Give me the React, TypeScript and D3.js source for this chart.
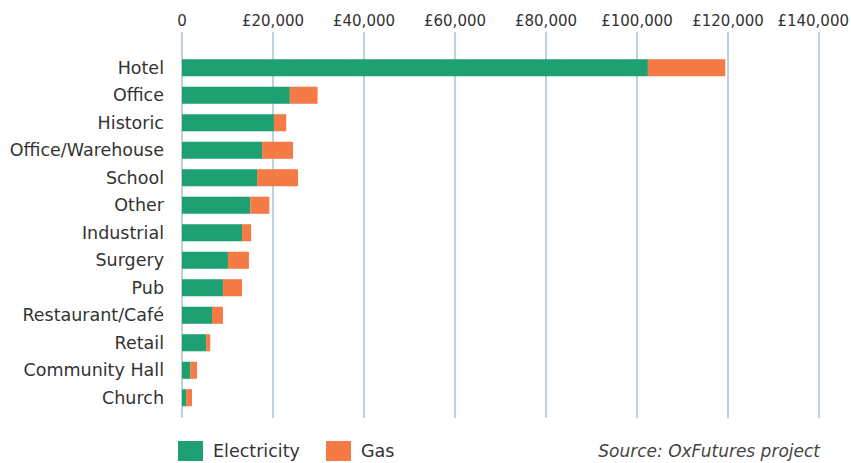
import { useEffect, useRef } from 'react';
import * as d3 from 'd3';

const categories = [
  'Hotel', 'Office', 'Historic', 'Office/Warehouse', 'School', 'Other', 'Industrial',
  'Surgery', 'Pub', 'Restaurant/Café', 'Retail', 'Community Hall', 'Church',
];
const electricity = [102400, 23700, 20200, 17600, 16500, 15000, 13200, 10100, 9000, 6600, 5300, 1800, 900];
const gas = [17000, 6100, 2700, 6800, 9000, 4200, 2000, 4600, 4200, 2400, 900, 1500, 1300];
const tickValues = [0, 20000, 40000, 60000, 80000, 100000, 120000, 140000];
const seriesNames = ['Electricity', 'Gas'];
const colors = ['#1fa072', '#f47b45'];

const W = 851;
const H = 463;
const FONT = 'DejaVu Sans, sans-serif';

export default function App() {
  const ref = useRef<SVGSVGElement>(null);

  useEffect(() => {
    const svg = d3.select(ref.current);
    svg.selectAll('*').remove();

    const x = d3.scaleLinear().domain([0, 140000]).range([182, 819]);
    const y = d3.scaleBand<string>()
      .domain(categories)
      .range([54, 411.5])
      .paddingInner(0.38)
      .paddingOuter(0.19);

    // gridlines
    svg.append('g')
      .selectAll('line')
      .data(tickValues)
      .join('line')
      .attr('x1', d => x(d))
      .attr('x2', d => x(d))
      .attr('y1', 32)
      .attr('y2', 418)
      .attr('stroke', '#a9c2d1')
      .attr('stroke-width', 1.5);

    // tick labels (last one kept inside the frame)
    const fmt = (v: number) => (v === 0 ? '0' : '£' + d3.format(',')(v));
    svg.append('g')
      .selectAll('text')
      .data(tickValues)
      .join('text')
      .attr('x', d => x(d))
      .attr('y', 26)
      .attr('text-anchor', 'middle')
      .attr('font-family', FONT)
      .attr('font-size', 15)
      .attr('fill', '#333')
      .text(fmt)
      .each(function (d) {
        const w = (this as SVGTextElement).getComputedTextLength();
        if (x(d) + w / 2 > W - 2) d3.select(this).attr('x', W - 2 - w / 2);
      });

    const rows = categories.map((c, i) => ({ c, e: electricity[i], g: gas[i] }));

    const bars = svg.append('g');
    bars.selectAll('rect.e')
      .data(rows)
      .join('rect')
      .attr('class', 'e')
      .attr('x', x(0))
      .attr('y', d => y(d.c)!)
      .attr('width', d => x(d.e) - x(0))
      .attr('height', y.bandwidth())
      .attr('fill', colors[0]);
    bars.selectAll('rect.g')
      .data(rows)
      .join('rect')
      .attr('class', 'g')
      .attr('x', d => x(d.e))
      .attr('y', d => y(d.c)!)
      .attr('width', d => x(d.e + d.g) - x(d.e))
      .attr('height', y.bandwidth())
      .attr('fill', colors[1]);

    // category labels
    svg.append('g')
      .selectAll('text')
      .data(categories)
      .join('text')
      .attr('x', 164)
      .attr('y', d => y(d)! + y.bandwidth() / 2)
      .attr('dy', '0.35em')
      .attr('text-anchor', 'end')
      .attr('font-family', FONT)
      .attr('font-size', 17.5)
      .attr('fill', '#333')
      .text(d => d);

    // legend
    const legendX = [178, 326];
    const leg = svg.append('g')
      .selectAll('g')
      .data(seriesNames)
      .join('g')
      .attr('transform', (_, i) => `translate(${legendX[i]},441)`);
    leg.append('rect')
      .attr('width', 25)
      .attr('height', 20)
      .attr('fill', (_, i) => colors[i]);
    leg.append('text')
      .attr('x', 35)
      .attr('y', 10)
      .attr('dy', '0.35em')
      .attr('font-family', FONT)
      .attr('font-size', 17.5)
      .attr('fill', '#333')
      .text(d => d);

    svg.append('text')
      .attr('x', 820)
      .attr('y', 451)
      .attr('dy', '0.35em')
      .attr('text-anchor', 'end')
      .attr('font-family', FONT)
      .attr('font-size', 17)
      .attr('font-style', 'italic')
      .attr('fill', '#444')
      .text('Source: OxFutures project');
  }, []);

  return (
    <svg
      ref={ref}
      width={W}
      height={H}
      style={{ position: 'absolute', left: 0, top: 0, background: '#fff' }}
    />
  );
}
